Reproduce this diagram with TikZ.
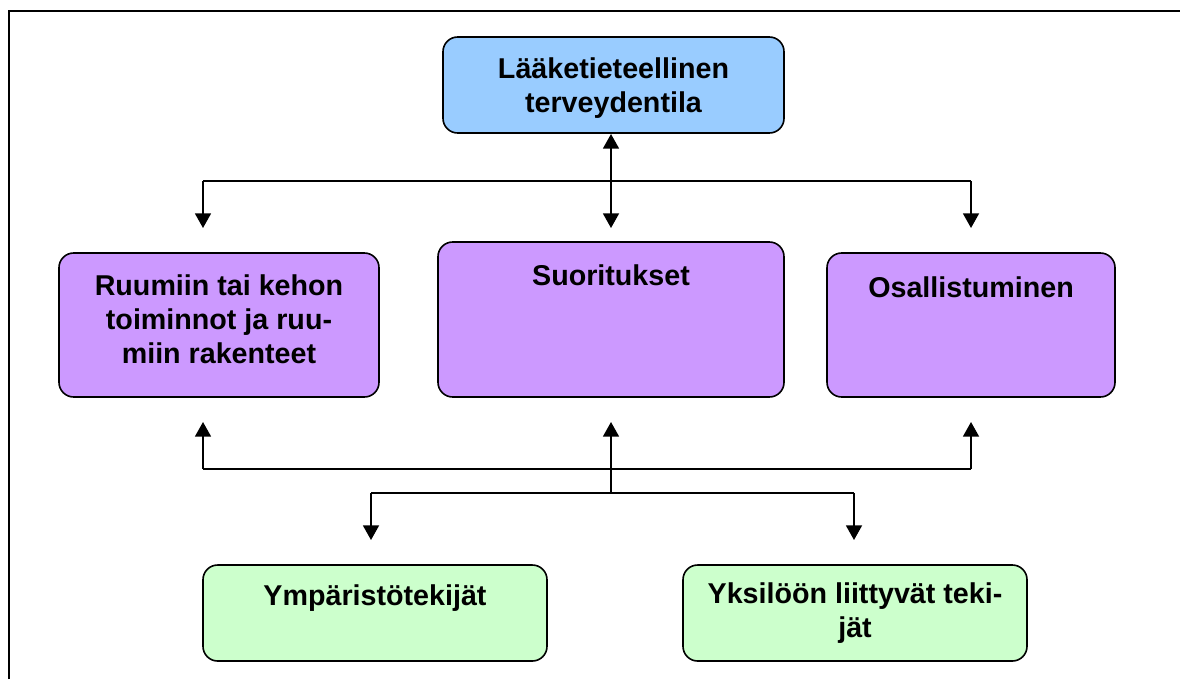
\documentclass[tikz,border=0pt]{standalone}
\usepackage{fontspec}
\setmainfont{Liberation Sans}
\usetikzlibrary{arrows.meta}
\definecolor{cblue}{HTML}{99CCFF}
\definecolor{cpurple}{HTML}{CC99FF}
\definecolor{cgreen}{HTML}{CCFFCC}
\begin{document}
\begin{tikzpicture}[x=0.75pt,y=-0.75pt,
  box/.style={draw=black,line width=1.2pt,rounded corners=11pt,inner sep=0pt},
  lbl/.style={anchor=base,inner sep=0pt,font=\bfseries\fontsize{21.5pt}{25.5pt}\selectfont},
  conn/.style={line width=1.3pt},
  arr/.style={conn,-{Triangle[width=12pt,length=11pt]}},
  darr/.style={conn,{Triangle[width=12pt,length=11pt]}-{Triangle[width=12pt,length=11pt]}}]
\useasboundingbox (0,0) rectangle (1180,679);
\draw[line width=1.5pt] (9,679) -- (9,11) -- (1180,11);
% boxes
\node[box,fill=cblue,minimum width=255.75pt,minimum height=72pt] (top) at (613.5,85) {};
\node[box,fill=cpurple,minimum width=240pt,minimum height=108pt] (body) at (219,325) {};
\node[box,fill=cpurple,minimum width=259.5pt,minimum height=116.25pt] (act) at (611,319.5) {};
\node[box,fill=cpurple,minimum width=216pt,minimum height=108pt] (part) at (971,325) {};
\node[box,fill=cgreen,minimum width=258pt,minimum height=72pt] (env) at (375,613) {};
\node[box,fill=cgreen,minimum width=258pt,minimum height=72pt] (pers) at (855,613) {};
% labels
\node[lbl] (topl) at (613.5,78) {\begin{tabular}[t]{@{}c@{}}Lääketieteellinen\\terveydentila\end{tabular}};
\node[lbl] (bodyl) at (219,295) {\begin{tabular}[t]{@{}c@{}}Ruumiin tai kehon\\toiminnot ja ruu-\\miin rakenteet\end{tabular}};
\node[lbl] (actl) at (611,285) {Suoritukset};
\node[lbl] (partl) at (971,297) {Osallistuminen};
\node[lbl] (envl) at (375,605) {Ympäristötekijät};
\node[lbl] (persl) at (855,603) {\begin{tabular}[t]{@{}c@{}}Yksilöön liittyvät teki-\\jät\end{tabular}};
% coordinates
\coordinate (t1) at (611,134);
\coordinate (h1) at (611,181);
\coordinate (hl) at (203,181);
\coordinate (hr) at (971,181);
\coordinate (a1) at (611,228);
\coordinate (al) at (203,228);
\coordinate (ar) at (971,228);
\coordinate (ul) at (203,422);
\coordinate (um) at (611,422);
\coordinate (ur) at (971,422);
\coordinate (h2l) at (203,469);
\coordinate (h2r) at (971,469);
\coordinate (h2m) at (611,469);
\coordinate (h3) at (611,493);
\coordinate (h3l) at (371,493);
\coordinate (h3r) at (854,493);
\coordinate (dl) at (371,540);
\coordinate (dr) at (854,540);
% connectors
\draw[darr] (t1) -- (a1);
\draw[conn] (hl) -- (hr);
\draw[arr] (hl) -- (al);
\draw[arr] (hr) -- (ar);
\draw[conn] (h2l) -- (h2r);
\draw[arr] (h2l) -- (ul);
\draw[arr] (h2r) -- (ur);
\draw[arr] (h3) -- (um);
\draw[conn] (h3l) -- (h3r);
\draw[arr] (h3l) -- (dl);
\draw[arr] (h3r) -- (dr);
\end{tikzpicture}
\end{document}
